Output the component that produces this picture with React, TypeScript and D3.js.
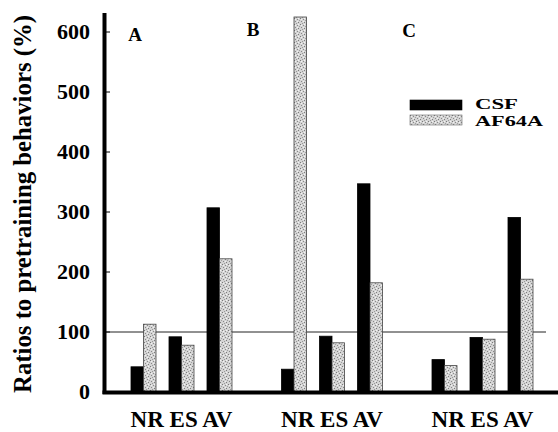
import React from "react";
import * as d3 from "d3";

const WIDTH = 558;
const HEIGHT = 432;

const panels = ["A", "B", "C"];
const behaviors = ["NR", "ES", "AV"];
const seriesNames = ["CSF", "AF64A"];

// ratios (%) per panel, in behaviors order
const csfValues = [
  [42, 92, 307],
  [38, 93, 347],
  [54, 91, 291],
];
const af64aValues = [
  [113, 78, 222],
  [625, 82, 182],
  [44, 88, 188],
];
const yTicks = [0, 100, 200, 300, 400, 500, 600];

const FONT = "'Liberation Serif', 'Times New Roman', serif";

const App = () => {
  const y = d3.scaleLinear().domain([0, 600]).range([392, 32]);
  const xPanel = d3.scaleBand().domain(panels).range([106.25, 557.75]);
  const xBehavior = d3.scaleBand().domain(behaviors).range([-57, 57]);
  const xSeries = d3.scaleBand().domain(seriesNames).range([-12.5, 12.5]);

  const bars = [];
  panels.forEach((p, pi) => {
    behaviors.forEach((b, bi) => {
      const cx = xPanel(p) + xPanel.bandwidth() / 2 + xBehavior(b) + xBehavior.bandwidth() / 2;
      [csfValues[pi][bi], af64aValues[pi][bi]].forEach((v, si) => {
        bars.push({ key: `${p}-${b}-${si}`, x: cx + xSeries(seriesNames[si]), w: xSeries.bandwidth(), v, si });
      });
    });
  });

  const panelLabelPos = { A: [135, 41], B: [253, 36], C: [409, 37] };
  const legendWidths = [43, 68];

  return (
    <svg width={WIDTH} height={HEIGHT} style={{ display: "block", position: "absolute", left: 0, top: 0, background: "#fff" }}>
      <defs>
        <pattern id="stipple" width="6" height="6" patternUnits="userSpaceOnUse">
          <rect width="6" height="6" fill="#d4d4d4" />
          <rect x="0" y="0" width="1" height="1" fill="#7a7a7a" />
          <rect x="3" y="1" width="1" height="1" fill="#8a8a8a" />
          <rect x="1" y="3" width="1" height="1" fill="#888" />
          <rect x="4" y="4" width="1" height="1" fill="#7c7c7c" />
          <rect x="5" y="2" width="1" height="1" fill="#a0a0a0" />
          <rect x="2" y="5" width="1" height="1" fill="#999" />
          <rect x="4" y="0" width="1" height="1" fill="#f4f4f4" />
          <rect x="1" y="1" width="1" height="1" fill="#f2f2f2" />
          <rect x="3" y="3" width="1" height="1" fill="#f0f0f0" />
        </pattern>
      </defs>

      {/* y axis title */}
      <text
        transform={`translate(31, 204) rotate(-90)`}
        textAnchor="middle"
        textLength={378}
        lengthAdjust="spacingAndGlyphs"
        style={{ fontFamily: FONT, fontWeight: "bold", fontSize: 25 }}
      >
        Ratios to pretraining behaviors (%)
      </text>

      {/* y tick labels and ticks */}
      {yTicks.map((t) => (
        <g key={t}>
          <text
            x={90}
            y={y(t) + 7}
            textAnchor="end"
            style={{ fontFamily: FONT, fontWeight: "bold", fontSize: 22 }}
          >
            {t}
          </text>
          <line x1={106} x2={110} y1={y(t)} y2={y(t)} stroke="#000" />
        </g>
      ))}

      {/* reference line at 100% */}
      <line x1={106} x2={546} y1={y(100)} y2={y(100)} stroke="#222" strokeWidth={1} />

      {/* bars */}
      {bars.map((d) => (
        <rect
          key={d.key}
          x={d.x}
          y={y(d.v)}
          width={d.w}
          height={y(0) - y(d.v)}
          fill={d.si === 0 ? "#000" : "url(#stipple)"}
          stroke={d.si === 0 ? "#000" : "#444"}
          strokeWidth={0.8}
        />
      ))}

      {/* axes */}
      <line x1={104.5} x2={104.5} y1={13} y2={394} stroke="#000" strokeWidth={4} />
      <line x1={102.5} x2={558} y1={392.5} y2={392.5} stroke="#000" strokeWidth={4} />

      {/* panel letters */}
      {panels.map((p) => (
        <text
          key={p}
          x={panelLabelPos[p][0]}
          y={panelLabelPos[p][1]}
          textAnchor="middle"
          style={{ fontFamily: FONT, fontWeight: "bold", fontSize: 19 }}
        >
          {p}
        </text>
      ))}

      {/* category labels */}
      {panels.map((p) => (
        <text
          key={`lab-${p}`}
          x={xPanel(p) + xPanel.bandwidth() / 2 + xBehavior("NR") + 6}
          y={426.5}
          textLength={102}
          lengthAdjust="spacingAndGlyphs"
          style={{ fontFamily: FONT, fontWeight: "bold", fontSize: 24 }}
        >
          {behaviors.join(" ")}
        </text>
      ))}

      {/* legend */}
      {seriesNames.map((s, i) => (
        <g key={s} transform={`translate(410, ${100 + i * 15})`}>
          <rect
            width={52}
            height={10}
            fill={i === 0 ? "#000" : "url(#stipple)"}
            stroke={i === 0 ? "#000" : "#666"}
            strokeWidth={0.6}
          />
          <text
            x={65}
            y={i === 0 ? 9 : 11}
            textLength={legendWidths[i]}
            lengthAdjust="spacingAndGlyphs"
            style={{ fontFamily: FONT, fontWeight: "bold", fontSize: 15 }}
          >
            {s}
          </text>
        </g>
      ))}
    </svg>
  );
};

export default App;
